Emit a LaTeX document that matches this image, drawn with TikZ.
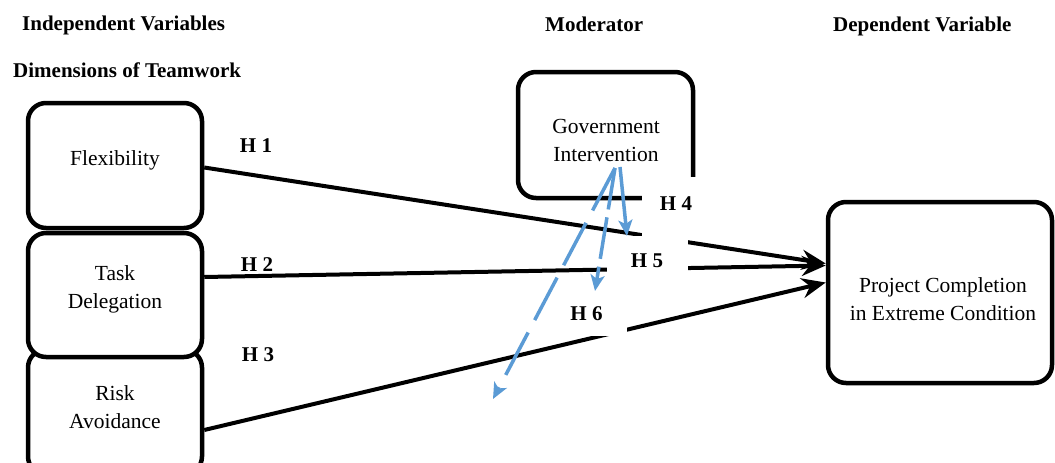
\documentclass[tikz,border=0pt]{standalone}
\usepackage{fontspec}
\setmainfont{Liberation Serif}
\usetikzlibrary{arrows.meta}
\definecolor{bluearrow}{RGB}{91,155,213}
\tikzset{
  box/.style={draw, line width=4.5pt, rounded corners=18pt, fill=white, inner sep=0pt},
  txt/.style={align=center, inner sep=0pt, font=\fontsize{21.5pt}{28pt}\selectfont},
  hdr/.style={anchor=base west, inner sep=0pt, font=\bfseries\fontsize{21pt}{25pt}\selectfont},
  hlab/.style={inner sep=0pt, font=\bfseries\fontsize{21pt}{25pt}\selectfont},
  mask/.style={fill=white, inner sep=0pt},
  conn/.style={line width=4pt, -{Stealth[length=24pt,width=20pt,inset=8pt]}},
  bconn/.style={draw=bluearrow, line width=3.5pt, -{Stealth[length=16pt,width=14pt,inset=4pt]}}
}
\begin{document}
\begin{tikzpicture}[x=1pt,y=-1pt]
\useasboundingbox (0,0) rectangle (1055,463);
% headers
\node[hdr] (hiv) at (22,30) {Independent Variables};
\node[hdr] (hmod) at (545,31) {Moderator};
\node[hdr] (hdv) at (833,31) {Dependent Variable};
\node[hdr] (hdim) at (13,77) {Dimensions of Teamwork};
% boxes
\node[box, minimum width=174pt, minimum height=125pt] (risk) at (115,412) {};
\node[box, minimum width=174pt, minimum height=124pt] (task) at (115,295) {};
\node[box, minimum width=174pt, minimum height=125pt] (flex) at (115,165.5) {};
\node[box, minimum width=175pt, minimum height=126pt] (gov) at (605.5,135) {};
\node[box, minimum width=224pt, minimum height=181pt] (proj) at (940,292.5) {};
% texts
\node[txt] (flext) at (115,160) {Flexibility};
\node[txt] (taskt) at (115,289) {Task\\Delegation};
\node[txt] (riskt) at (115,407) {Risk\\Avoidance};
\node[txt] (govt) at (606,140) {Government\\Intervention};
\node[txt] (projt) at (943,299) {Project Completion\\in Extreme Condition};
% black connectors
\draw[conn] ([yshift=-2pt]flex.east) -- ([yshift=29pt]proj.west);
\draw[conn] ([yshift=18pt]task.east) -- ([yshift=27pt]proj.west);
\draw[conn] ([yshift=-18pt]risk.east) -- ([yshift=10pt]proj.west);
% masks
\node[mask, minimum width=58pt, minimum height=59pt] (m4) at (671,206.5) {};
\node[mask, minimum width=81pt, minimum height=46pt] (m5) at (647.5,259) {};
\node[mask, minimum width=72pt, minimum height=46pt] (m6) at (591,313) {};
% H labels
\node[hlab] (h1) at (256,146) {H 1};
\node[hlab] (h2) at (257,265) {H 2};
\node[hlab] (h3) at (258,355) {H 3};
\node[hlab] (h4) at (676,203.5) {H 4};
\node[hlab] (h5) at (647,261) {H 5};
\node[hlab] (h6) at (586.5,313.5) {H 6};
% blue moderator arrows
\coordinate (ba) at (620,167);
\coordinate (bb) at (615,168);
\coordinate (e4) at (627,236);
\coordinate (e5) at (595,291);
\coordinate (e6) at (493,399);
\draw[bconn] (ba) -- (e4);
\draw[bconn, dash pattern=on 42pt off 8pt] (bb) -- (e5);
\draw[bconn, dash pattern=on 48pt off 14pt] (bb) -- (e6);
\end{tikzpicture}
\end{document}
